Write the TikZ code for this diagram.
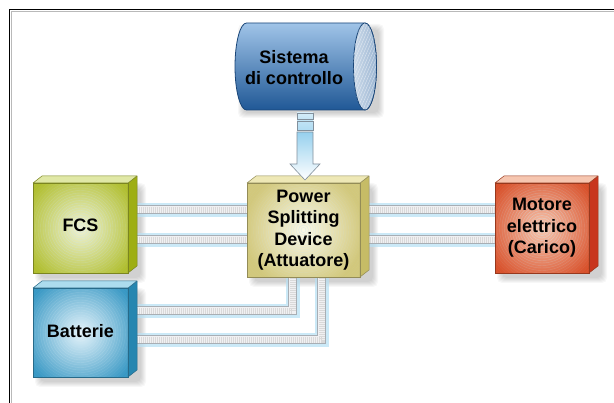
\documentclass[tikz,border=0pt]{standalone}
\usepackage{fontspec}
\setmainfont{Liberation Sans}
\usetikzlibrary{calc}
\pgfdeclarelayer{shadowlayer}
\pgfdeclarelayer{barlayer}
\pgfdeclarelayer{facelayer}
\pgfsetlayers{shadowlayer,barlayer,facelayer,main}

\definecolor{fcsedge}{RGB}{176,190,46}
\definecolor{fcsin}{RGB}{240,243,214}
\definecolor{fcsside}{RGB}{158,174,20}
\definecolor{fcstop}{RGB}{224,232,166}
\definecolor{batedge}{RGB}{56,152,196}
\definecolor{batin}{RGB}{232,245,251}
\definecolor{batside}{RGB}{38,134,176}
\definecolor{battop}{RGB}{172,220,238}
\definecolor{psdedge}{RGB}{210,200,124}
\definecolor{psdin}{RGB}{250,248,230}
\definecolor{psdside}{RGB}{198,188,102}
\definecolor{psdtop}{RGB}{238,232,182}
\definecolor{motedge}{RGB}{216,80,42}
\definecolor{motin}{RGB}{248,200,176}
\definecolor{motside}{RGB}{200,54,30}
\definecolor{mottop}{RGB}{246,198,176}
\definecolor{glowblue}{RGB}{182,224,244}
\definecolor{barborder}{RGB}{168,174,180}
\definecolor{barbody}{RGB}{240,240,242}
\definecolor{cyltop}{RGB}{160,196,232}
\definecolor{cylmid}{RGB}{50,110,176}
\definecolor{cylbot}{RGB}{32,88,150}
\definecolor{cyledge}{RGB}{26,70,120}
\definecolor{capleft}{RGB}{204,218,234}
\definecolor{capright}{RGB}{156,182,210}
\definecolor{arrtop}{RGB}{150,208,238}
\definecolor{arredge}{RGB}{130,144,156}
\definecolor{ringcol}{RGB}{200,228,242}

\tikzset{
  boxtext/.style={inner sep=0pt, outer sep=0pt, align=center,
    font=\bfseries\fontsize{18}{21.5}\selectfont, text=black},
  barglow/.style={line width=14pt, draw=glowblue, opacity=.7},
  barline/.style={line width=9pt, draw=barborder},
  barfill/.style={line width=7pt, draw=barbody},
  bartex/.style={line width=6pt, draw=gray!30, dash pattern=on .4pt off 1.6pt},
  ringline/.style={draw=ringcol, line width=.4pt},
  shadowpiece/.style={fill=black, opacity=.03, rounded corners=5pt},
}

% #1 node, #2 edge colour, #3 centre colour, #4 side colour, #5 top colour
\newcommand\mycube[5]{%
  \begin{pgfonlayer}{shadowlayer}
    \foreach \k in {0,1,...,5}
      \fill[shadowpiece] ([shift={(2+\k,\k)}]#1.north west) rectangle ([shift={(18-\k,10-\k)}]#1.south east);
  \end{pgfonlayer}
  \begin{pgfonlayer}{facelayer}
    \begin{scope}
      \clip (#1.south west) rectangle (#1.north east);
      \fill[#2] (#1.south west) rectangle (#1.north east);
      \shade[inner color=#3, outer color=#2] (#1.center) circle[radius=60pt];
      \foreach \r [evaluate=\r as \op using {max(0.06,0.6*(1-\r/60))}] in {2.5,5,...,72}
        \draw[ringline, opacity=\op] (#1.center) circle[radius=\r pt];
    \end{scope}
    \filldraw[draw=#2!70!black, fill=#4, line width=.5pt, line join=round]
      (#1.north east) -- ([shift={(9,-7)}]#1.north east)
      -- ([shift={(9,-7)}]#1.south east) -- (#1.south east) -- cycle;
    \filldraw[draw=#2!70!black, fill=#5, line width=.5pt, line join=round]
      (#1.north west) -- ([shift={(9,-7)}]#1.north west)
      -- ([shift={(9,-7)}]#1.north east) -- (#1.north east) -- cycle;
    \draw[#2!70!black, line width=.5pt] (#1.south west) rectangle (#1.north east);
  \end{pgfonlayer}
}

\newcommand\barpath[1]{%
  \draw[barglow] #1; \draw[barline] #1; \draw[barfill] #1; \draw[bartex] #1;}

\begin{document}
\begin{tikzpicture}[x=1pt,y=-1pt]
\useasboundingbox (0,0) rectangle (614,403);
\begin{pgfonlayer}{shadowlayer}
  \fill[white] (0,0) rectangle (614,403);
\end{pgfonlayer}

% frame
\draw[gray!55, line width=.8pt] (11.3,403) -- (11.3,11.3) -- (614,11.3);
\draw[black, line width=1.5pt] (9.5,403) -- (9.5,9.5) -- (614,9.5);

% box nodes (text)
\node[boxtext, minimum width=95pt, minimum height=90pt] (fcs) at (80.5,228) {\raisebox{5pt}{FCS}};
\node[boxtext, minimum width=95pt, minimum height=89pt] (bat) at (80.5,332.5) {\raisebox{4pt}{Batterie}};
\node[boxtext, minimum width=113pt, minimum height=94pt] (psd) at (303.5,230) {Power\\Splitting\\Device\\(Attuatore)};
\node[boxtext, minimum width=94pt, minimum height=90pt] (mot) at (542,228) {Motore\\elettrico\\(Carico)};
\node[boxtext] (ctrl) at (294,67.5) {Sistema\\di controllo};

\mycube{fcs}{fcsedge}{fcsin}{fcsside}{fcstop}
\mycube{bat}{batedge}{batin}{batside}{battop}
\mycube{psd}{psdedge}{psdin}{psdside}{psdtop}
\mycube{mot}{motedge}{motin}{motside}{mottop}

% connectors
\coordinate (h1) at (0,210);
\coordinate (h2) at (0,240);
\coordinate (k1) at (292.5,311);
\coordinate (k2) at (321.5,340);
\begin{pgfonlayer}{barlayer}
  \barpath{(fcs.center |- h1) -- (psd.center |- h1)}
  \barpath{(fcs.center |- h2) -- (psd.center |- h2)}
  \barpath{(psd.center |- h1) -- (mot.center |- h1)}
  \barpath{(psd.center |- h2) -- (mot.center |- h2)}
  \barpath{(psd.center -| k1) |- (bat.center |- k1)}
  \barpath{(psd.center -| k2) |- (bat.center |- k2)}
\end{pgfonlayer}

% control system cylinder
\begin{pgfonlayer}{shadowlayer}
  \foreach \k in {0,1,...,5}
    \fill[shadowpiece] ({238+\k},{24+\k}) rectangle ({384-\k},{118-\k});
\end{pgfonlayer}
\begin{pgfonlayer}{facelayer}
  \shadedraw[top color=cyltop, middle color=cylmid, bottom color=cylbot, draw=cyledge, line width=.8pt]
    (246.5,23) -- (365,23) arc[start angle=-90, end angle=90, x radius=11.5, y radius=43.5]
    -- (246.5,110) arc[start angle=90, end angle=270, x radius=11.5, y radius=43.5] -- cycle;
  \shadedraw[left color=capleft, right color=capright, draw=cyledge, line width=.8pt]
    (365,66.5) ellipse[x radius=11.5, y radius=43.5];
  \begin{scope}
    \clip (365,66.5) ellipse[x radius=11.5, y radius=43.5];
    \foreach \i in {-40,-37,...,40} \draw[white, opacity=.55, line width=.4pt] ({345+\i},112) -- ({385+\i},20);
  \end{scope}
  % arrow
  \shadedraw[top color=arrtop!40, bottom color=arrtop!55, draw=arredge, line width=.6pt] (297,113) rectangle (313,119);
  \shadedraw[top color=arrtop!60, bottom color=arrtop!75, draw=arredge, line width=.6pt] (297,121) rectangle (313,130);
  \shadedraw[top color=arrtop, bottom color=white, draw=arredge, line width=.6pt, line join=miter]
    (297,132) -- (313,132) -- (313,164) -- (320,164) -- (305,180) -- (290,164) -- (297,164) -- cycle;
\end{pgfonlayer}
\end{tikzpicture}
\end{document}
